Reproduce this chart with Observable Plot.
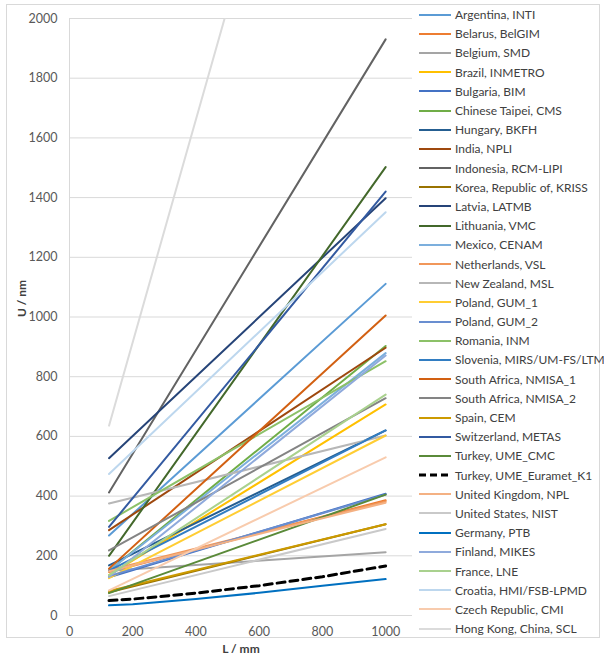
<!DOCTYPE html>
<html>
<head>
<meta charset="utf-8">
<script src="https://cdn.jsdelivr.net/npm/d3@7"></script>
<script src="https://cdn.jsdelivr.net/npm/@observablehq/plot@0.6"></script>
<style>
  html, body { margin: 0; padding: 0; background: #fff; }
  #wrap { position: relative; width: 604px; height: 666px; font-family: Lato, "Liberation Sans", sans-serif; }
  #border { position: absolute; left: 6px; top: 4px; width: 594px; height: 634px; border: 1px solid #d9d9d9; box-sizing: border-box; pointer-events: none; }
  #legend { position: absolute; left: 418px; top: 5px; font-size: 12px; color: #404040; }
  .row { display: flex; align-items: center; height: 19.2px; white-space: nowrap; }
  .row svg { margin-right: 3px; }
</style>
</head>
<body>
<div id="wrap">
  <div id="chart"></div>
  <div id="border"></div>
  <div id="legend"></div>
</div>
<script>
// ---- data ----
const labs = [
  "Argentina, INTI", "Belarus, BelGIM", "Belgium, SMD", "Brazil, INMETRO", "Bulgaria, BIM",
  "Chinese Taipei, CMS", "Hungary, BKFH", "India, NPLI", "Indonesia, RCM-LIPI",
  "Korea, Republic of, KRISS", "Latvia, LATMB", "Lithuania, VMC", "Mexico, CENAM",
  "Netherlands, VSL", "New Zealand, MSL", "Poland, GUM_1", "Poland, GUM_2", "Romania, INM",
  "Slovenia, MIRS/UM-FS/LTM", "South Africa, NMISA_1", "South Africa, NMISA_2", "Spain, CEM",
  "Switzerland, METAS", "Turkey, UME_CMC", "Turkey, UME_Euramet_K1", "United Kingdom, NPL",
  "United States, NIST", "Germany, PTB", "Finland, MIKES", "France, LNE",
  "Croatia, HMI/FSB-LPMD", "Czech Republic, CMI", "Hong Kong, China, SCL"
];
const colors = [
  "#5B9BD5", "#ED7D31", "#A5A5A5", "#FFC000", "#4472C4",
  "#70AD47", "#255E91", "#9E480E", "#636363",
  "#997300", "#264478", "#43682B", "#7CAFDD",
  "#F1975A", "#B7B7B7", "#FFCD33", "#698ED0", "#8CC168",
  "#327DC2", "#D26012", "#848484", "#CC9A00",
  "#335AA1", "#5A8A39", "#000000", "#F4B183",
  "#C9C9C9", "#0070C0", "#8FAADC", "#A9D18E",
  "#BDD7EE", "#F8CBAD", "#DBDBDB"
];
// U (nm) at L = 125 mm and at L = 1000 mm
const lengths = [125, 1000];
const u125 = [
  268, 146, 150, 135, 128,
  150, 168, 286, 412,
  78, 527, 200, 150,
  152, 375, 125, 132, 317,
  150, 157, 218, 82,
  297, 75, 50, 148,
  65, 34, 129, 135,
  474, 84, 636
];
const u1000 = [
  1111, 386, 212, 707, 408,
  903, 620, 897, 1930,
  306, 1398, 1502, 879,
  382, 603, 603, 405, 852,
  620, 1005, 728, 306,
  1420, 405, 166, 378,
  290, 122, 871, 740,
  1351, 530, 3900
];
// series read at more lengths (slightly curved)
const curveL = [125, 200, 400, 600, 800, 1000];
const k1U = [50, 55, 75, 100, 130, 166];
const ptbU = [34, 38, 55, 76, 100, 122];

const yTicks = d3.range(0, 2001, 200);
const xTicks = d3.range(0, 1001, 200);

// ---- build rows ----
const rows = labs.map((name, i) => {
  let pts;
  if (name === "Turkey, UME_Euramet_K1") pts = curveL.map((L, j) => ({L, U: k1U[j]}));
  else if (name === "Germany, PTB") pts = curveL.map((L, j) => ({L, U: ptbU[j]}));
  else pts = lengths.map((L, j) => ({L, U: j === 0 ? u125[i] : u1000[i]}));
  return {name, color: colors[i], pts};
});

const lineMarks = rows.map(r => Plot.line(r.pts, {
  x: "L", y: "U",
  stroke: r.color,
  strokeWidth: r.name === "Turkey, UME_Euramet_K1" ? 3 : 2,
  strokeDasharray: r.name === "Turkey, UME_Euramet_K1" ? "8,5" : null,
  clip: true
}));

const chart = Plot.plot({
  width: 604, height: 666,
  marginLeft: 69, marginRight: 192, marginTop: 18, marginBottom: 51,
  style: {fontFamily: "Lato, 'Liberation Sans', sans-serif", background: "transparent"},
  x: {domain: [0, 1085], label: null},
  y: {domain: [0, 2000], label: null},
  marks: [
    Plot.ruleY(yTicks, {stroke: "#d9d9d9", strokeWidth: 1}),
    Plot.ruleX([0], {stroke: "#d9d9d9", strokeWidth: 1}),
    Plot.axisX({ticks: xTicks, tickFormat: d => String(d), tickSize: 0, tickPadding: 12, fontSize: 12.5, fill: "#595959", label: null}),
    Plot.axisY({ticks: yTicks, tickFormat: d => String(d), tickSize: 0, tickPadding: 12, fontSize: 12.5, fill: "#595959", label: null}),
    ...lineMarks,
    Plot.text(["U / nm"], {frameAnchor: "left", dx: -47, rotate: -90, fontSize: 12, fontWeight: "bold", fill: "#404040"}),
    Plot.text(["L / mm"], {frameAnchor: "bottom", dy: 37, fontSize: 12, fontWeight: "bold", fill: "#404040"})
  ]
});
document.getElementById("chart").appendChild(chart);

// ---- legend ----
const legend = d3.select("#legend");
rows.forEach(r => {
  const row = legend.append("div").attr("class", "row");
  const svg = row.append("svg").attr("width", 34).attr("height", 6);
  svg.append("line").attr("x1", 1).attr("x2", 33).attr("y1", 3).attr("y2", 3)
    .attr("stroke", r.color)
    .attr("stroke-width", r.name === "Turkey, UME_Euramet_K1" ? 3 : 2)
    .attr("stroke-dasharray", r.name === "Turkey, UME_Euramet_K1" ? "7,4" : null);
  row.append("span").text(r.name);
});
</script>
</body>
</html>
